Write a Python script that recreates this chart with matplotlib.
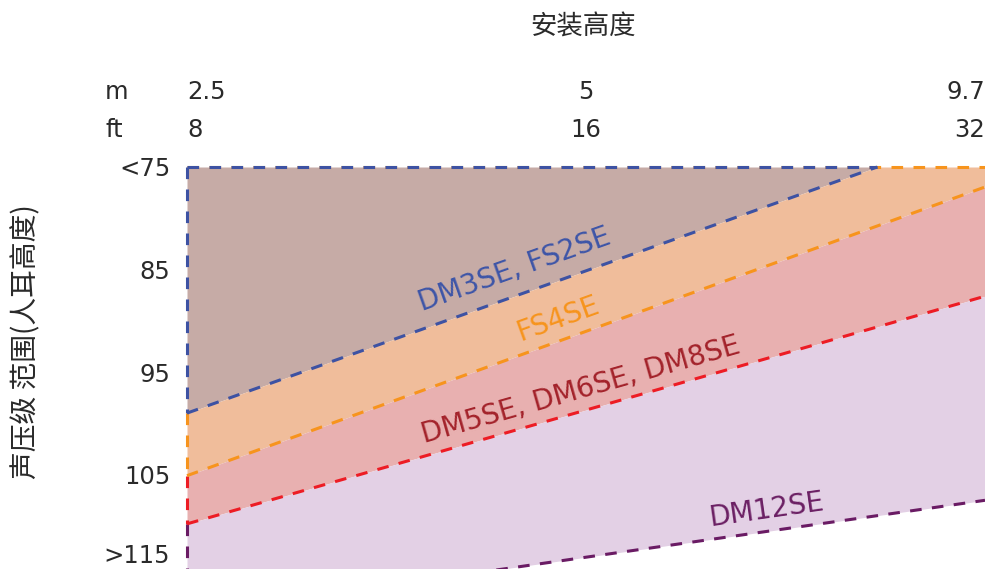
import numpy as np
import matplotlib
matplotlib.use('Agg')
import matplotlib.pyplot as plt
import matplotlib.transforms as mtransforms

plt.rcParams['font.family'] = ['DejaVu Sans', 'Noto Sans CJK SC']

# x axis: mounting height (positions 0..2)
positions = [0, 1, 2]
height_m = ['2.5', '5', '9.7']
height_ft = ['8', '16', '32']

# y axis: SPL range
spl_ticks = [75, 85, 95, 105, 112.7]
spl_labels = ['<75', '85', '95', '105', '>115']

# boundary lines: dB at 2.5 m and at 9.7 m
blue_db = [99.0, 71.25]     # DM3SE, FS2SE
orange_db = [105.1, 76.95]  # FS4SE
red_db = [109.8, 87.6]      # DM5SE, DM6SE, DM8SE
purple_db = [118.6, 107.5]  # DM12SE

c_blue, c_orange, c_red, c_purple = '#3d52a3', '#f7941d', '#ed1c24', '#6a1b64'
f_brown, f_orange, f_red, f_purple = '#c6aba6', '#f0bd9b', '#e8b0b0', '#e3d0e5'
txt = '#2a2a2a'

fig = plt.figure(figsize=(9.85, 5.69), dpi=100)
ax = fig.add_axes([187 / 985, 0, 1 - 187 / 985, 1 - 167 / 569])
ax.set_xlim(0, 2)
ax.set_ylim(114.2, 75)

x0, x1 = positions[0], positions[-1]
top = 75


def line_at(db, x):
    return db[0] + (db[1] - db[0]) * (x - x0) / (x1 - x0)


# where the blue line meets the top
x_int = x0 + (top - blue_db[0]) / (blue_db[1] - blue_db[0]) * (x1 - x0)

ax.fill_between([x0, x_int], [top, top], [blue_db[0], top], color=f_brown, lw=0)
ax.fill_between([x0, x_int, x1], [blue_db[0], top, top],
                [orange_db[0], line_at(orange_db, x_int), orange_db[1]], color=f_orange, lw=0)
ax.fill_between([x0, x1], orange_db, red_db, color=f_red, lw=0)
ax.fill_between([x0, x1], red_db, purple_db, color=f_purple, lw=0)

dash = dict(lw=2.2, ls=(0, (3.8, 3.4)), clip_on=False)
# top edge
ax.plot([x0, x1], [top, top], color=c_orange, **dash)
ax.plot([x0, x_int], [top, top], color=c_blue, **dash)
# left edge
ax.plot([x0, x0], [top, blue_db[0]], color=c_blue, **dash)
ax.plot([x0, x0], [blue_db[0], orange_db[0]], color=c_orange, **dash)
ax.plot([x0, x0], [orange_db[0], red_db[0]], color=c_red, **dash)
ax.plot([x0, x0], [red_db[0], 114.2], color=c_purple, **dash)
# diagonals
ax.plot([x0, x_int], [blue_db[0], top], color=c_blue, **dash)
ax.plot([x0, x1], orange_db, color=c_orange, **dash)
ax.plot([x0, x1], red_db, color=c_red, **dash)
ax.plot([x0, x1], purple_db, color=c_purple, **dash)

# line labels
ax.text(0.822, 85.05, 'DM3SE, FS2SE', color='#3d55a8', fontsize=20, rotation=19.6,
        ha='center', va='center', rotation_mode='anchor')
ax.text(0.930, 89.8, 'FS4SE', color='#f7941d', fontsize=20, rotation=19.9,
        ha='center', va='center', rotation_mode='anchor')
ax.text(0.988, 96.8, 'DM5SE, DM6SE, DM8SE', color='#a3222a', fontsize=20, rotation=15.9,
        ha='center', va='center', rotation_mode='anchor')
ax.text(1.452, 108.4, 'DM12SE', color='#6b1f63', fontsize=20, rotation=8.1,
        ha='center', va='center', rotation_mode='anchor')

for s in ax.spines.values():
    s.set_visible(False)
ax.set_xticks([])
ax.set_yticks(spl_ticks)
ax.set_yticklabels(spl_labels, fontsize=17.5, color=txt)
ax.tick_params(axis='y', length=0, pad=12)

# height labels above the plot
trans = mtransforms.blended_transform_factory(ax.transData, fig.transFigure)
aligns = ['left', 'center', 'right']
for p, m, ft, ha in zip(positions, height_m, height_ft, aligns):
    ax.text(p, 1 - 92 / 569, m, transform=trans, ha=ha, va='center', fontsize=17.5, color=txt)
    ax.text(p, 1 - 130 / 569, ft, transform=trans, ha=ha, va='center', fontsize=17.5, color=txt)
fig.text(105 / 985, 1 - 92 / 569, 'm', ha='left', va='center', fontsize=17.5, color=txt)
fig.text(105 / 985, 1 - 130 / 569, 'ft', ha='left', va='center', fontsize=17.5, color=txt)

fig.text(583 / 985, 1 - 27 / 569, '安装高度', ha='center', va='center', fontsize=19, color=txt,
         family=['Noto Sans CJK SC', 'DejaVu Sans'])
fig.text(26 / 985, 1 - 342 / 569, '声压级 范围(人耳高度)', ha='center', va='center', rotation=90,
         fontsize=20, color=txt, family=['Noto Sans CJK SC', 'DejaVu Sans'])

fig.savefig('out.png', dpi=100)
